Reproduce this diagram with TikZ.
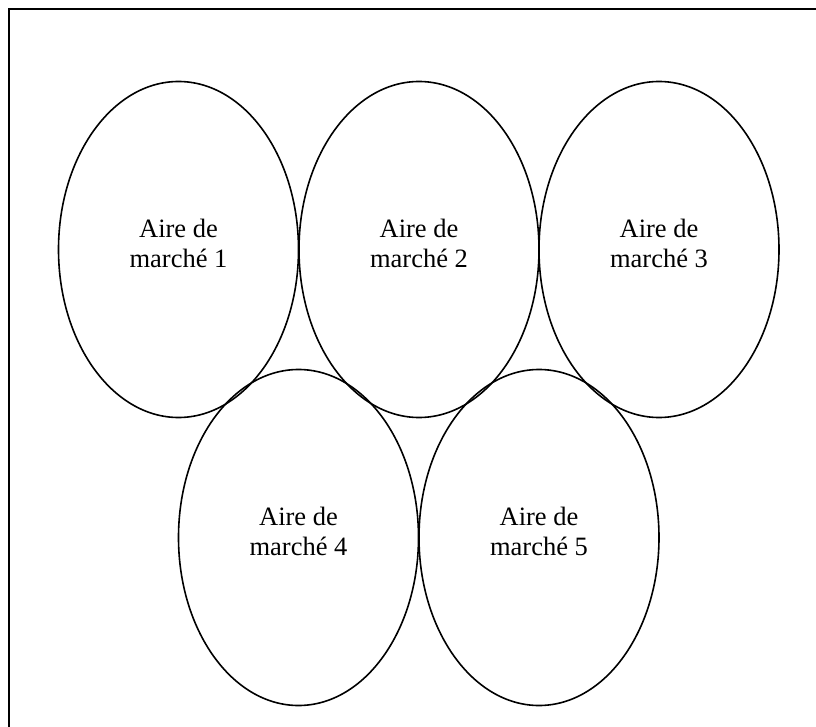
\documentclass[tikz,border=0pt]{standalone}
\usepackage{fontspec}
\setmainfont{Liberation Serif}
\usetikzlibrary{shapes.geometric}
\begin{document}
\begin{tikzpicture}[x=1pt,y=-1pt,
  area/.style={draw=black, line width=1.6pt, ellipse, minimum width=240pt, minimum height=336pt, inner sep=0pt},
  lbl/.style={align=center, font=\fontsize{26.5}{30}\selectfont, inner sep=0pt}]
\useasboundingbox (0,0) rectangle (816,727);
\coordinate (tl) at (9,9);
\coordinate (tr) at (816,9);
\coordinate (bl) at (9,727);
\draw[line width=2pt] (bl) -- (tl) -- (tr);
\node[area] (e1) at (178.5,249.5) {};
\node[area] (e2) at (419,249.5) {};
\node[area] (e3) at (659,249.5) {};
\node[area] (e4) at (298.5,537.5) {};
\node[area] (e5) at (539,537.5) {};
\node[lbl] (t1) at ([yshift=6.5pt]e1.center) {Aire de\\marché 1};
\node[lbl] (t2) at ([yshift=6.5pt]e2.center) {Aire de\\marché 2};
\node[lbl] (t3) at ([yshift=6.5pt]e3.center) {Aire de\\marché 3};
\node[lbl] (t4) at ([yshift=6.5pt]e4.center) {Aire de\\marché 4};
\node[lbl] (t5) at ([yshift=6.5pt]e5.center) {Aire de\\marché 5};
\end{tikzpicture}
\end{document}
